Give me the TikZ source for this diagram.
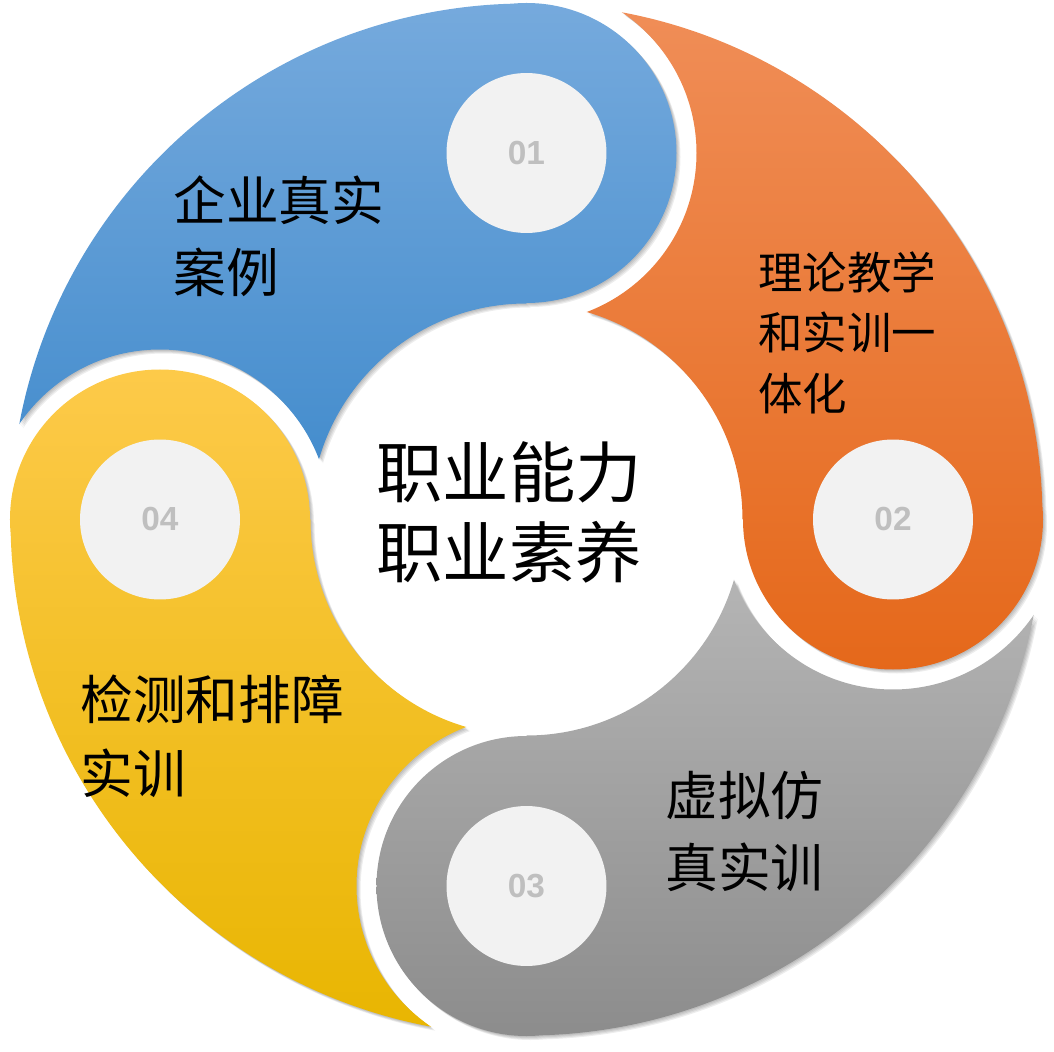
\documentclass[tikz,border=0pt]{standalone}
\usepackage{fontspec}
\setmainfont{Liberation Sans}
\newfontfamily\cjk{Noto Sans CJK SC}
\definecolor{blueTop}{RGB}{118,170,221}
\definecolor{blueBot}{RGB}{62,137,203}
\definecolor{orangeTop}{RGB}{240,142,88}
\definecolor{orangeBot}{RGB}{229,104,26}
\definecolor{grayTop}{RGB}{186,186,186}
\definecolor{grayBot}{RGB}{140,140,140}
\definecolor{yellowTop}{RGB}{253,202,74}
\definecolor{yellowBot}{RGB}{232,181,0}
\definecolor{diskgray}{RGB}{242,242,242}
\definecolor{numgray}{RGB}{191,191,191}
% one swirl: ring sector from head angle #1 to #1+90, plus round head
\newcommand{\swirlpath}[1]{%
  (#1:516) arc[start angle=#1,end angle=#1+90,radius=516]
  -- (#1+90:216) arc[start angle=#1+90,end angle=#1,radius=216] -- cycle
  (#1:366.5) circle (150)}
% cut the tail round the next head
\newcommand{\swirlcut}[1]{%
  \clip (-700,-700) rectangle (700,700) (#1+90:366.5) circle (170)}
\tikzset{
  numdisk/.style={circle,fill=diskgray,minimum size=3.2cm,inner sep=0pt,
                  font=\bfseries\fontsize{19}{19}\selectfont,text=numgray},
  caption/.style={anchor=west,align=left,inner sep=0pt,text=black},
  bigcap/.style={caption,font=\cjk\fontsize{30}{41}\selectfont},
  smallcap/.style={caption,font=\cjk\fontsize{25.3}{34.4}\selectfont},
  hub/.style={caption,font=\cjk\fontsize{37.8}{45.5}\selectfont},
}

\begin{document}
\begin{tikzpicture}[x=0.02cm,y=0.02cm]
  \path[use as bounding box] (-526.5,-531.5) rectangle (527.5,519.5);

  % soft shadows
  \foreach \ang in {90,0,-90,180}{
    \foreach \off in {1,2,3,4}{
      \begin{scope}[shift={(\off,-\off)},even odd rule]
        \swirlcut{\ang};
        \fill[nonzero rule,black,opacity=0.07] \swirlpath{\ang};
      \end{scope}}}

  \foreach \ang/\ctop/\cbot/\ylo/\yhi in {90/blueTop/blueBot/0/516.5,
      0/orangeTop/orangeBot/-150/516,-90/grayTop/grayBot/-516.5/0,
      180/yellowTop/yellowBot/-516/150}{
    \begin{scope}[even odd rule]
      \swirlcut{\ang};
      \begin{scope}[nonzero rule]
        \clip \swirlpath{\ang};
        \shade[top color=\ctop,bottom color=\cbot] (-530,\ylo-4) rectangle (530,\yhi+4);
      \end{scope}
    \end{scope}}

  \node[numdisk] (n01) at (90:366.5) {01};
  \node[numdisk] (n02) at (0:366.5) {02};
  \node[numdisk] (n03) at (-90:366.5) {03};
  \node[numdisk] (n04) at (180:366.5) {04};

  \node[bigcap] (case) at (-353.5,283.5) {企业真实\\案例};
  \node[smallcap] (theory) at (231.5,186.8) {理论教学\\和实训一\\体化};
  \node[bigcap] (sim) at (138.5,-311.5) {虚拟仿\\真实训};
  \node[bigcap,font=\cjk\fontsize{30}{42}\selectfont] (repair) at (-446.5,-216.5)
    {检测和排障\\实训};
  \node[hub] (core) at (-150.5,7.5) {职业能力\\职业素养};
\end{tikzpicture}
\end{document}
